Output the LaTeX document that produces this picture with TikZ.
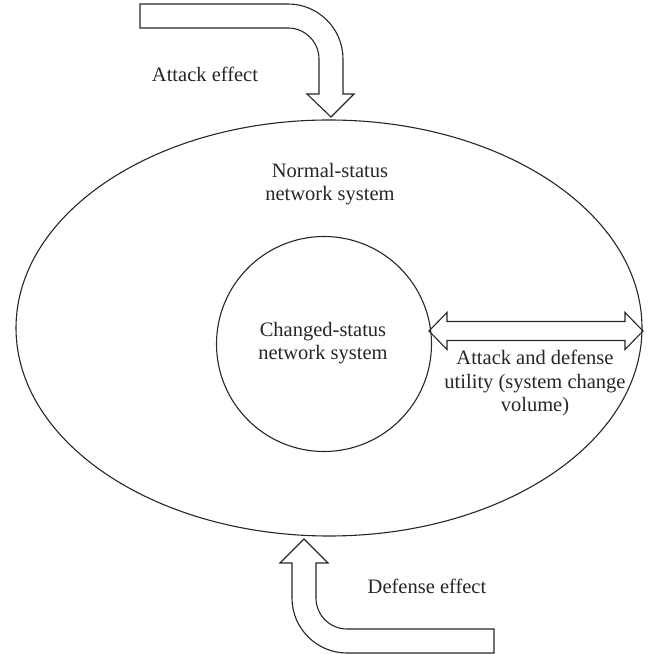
\documentclass[tikz,border=0pt]{standalone}
\usepackage{fontspec}
\setmainfont{Liberation Serif}
\usetikzlibrary{shapes.geometric}
\begin{document}
\begin{tikzpicture}[x=1pt,y=1pt,
  shapeline/.style={draw=black!85,line width=1.1pt,line join=miter},
  lbl/.style={font=\fontsize{20.5}{23.5}\selectfont,align=center,inner sep=0pt,text=black!85}]
\useasboundingbox (0,0) rectangle (651,654);
% outer ellipse and inner circle
\node[shapeline,ellipse,minimum width=626pt,minimum height=416pt,inner sep=0pt] (outer) at (329,326) {};
\node[shapeline,circle,minimum size=215pt,inner sep=0pt] (inner) at (324,310) {};
% attack effect arrow (top)
\draw[shapeline] (140,650) -- (288,650) arc[start angle=90,end angle=0,radius=55]
  -- (343,560) -- (354,560) -- (331,537) -- (307,560) -- (319,560) -- (319,595)
  arc[start angle=0,end angle=90,radius=31] -- (140,626) -- cycle;
% defense effect arrow (bottom)
\draw[shapeline] (304,115) -- (328,91) -- (316,91) -- (316,56)
  arc[start angle=180,end angle=270,radius=31] -- (494,25) -- (494,1) -- (347,1)
  arc[start angle=270,end angle=180,radius=55] -- (292,91) -- (280,91) -- cycle;
% double arrow
\coordinate (tl) at (429,323);
\coordinate (tr) at (643,323);
\draw[shapeline] (tl) -- ++(18,18.5) -- ++(0,-9) -- (625,332.5) -- ++(0,9) -- (tr)
  -- ++(-18,-18.5) -- ++(0,9) -- (447,313.5) -- ++(0,-9) -- cycle;
% labels
\node[lbl] (ta) at (205,580) {Attack effect};
\node[lbl] (tn) at (330,470) {Normal-status\\network system};
\node[lbl] (tc) at (323,311) {Changed-status\\network system};
\node[lbl] (tu) at (535,271) {Attack and defense\\utility (system change\\volume)};
\node[lbl] (td) at (427,68) {Defense effect};
\end{tikzpicture}
\end{document}
